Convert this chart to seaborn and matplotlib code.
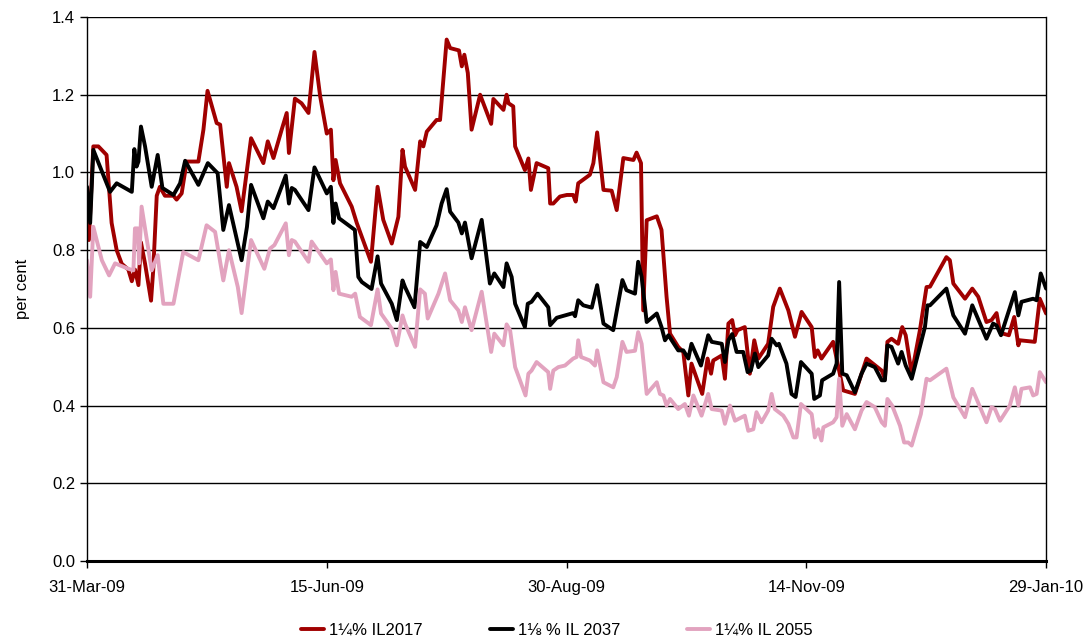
import pandas as pd
import seaborn as sns
import matplotlib.dates as mdates
from matplotlib import pyplot as plt

# days since 31-Mar-09
il2017_days = [0, 0.6, 2.0, 3.6, 6.2, 7.8, 9.4, 11.0, 13.1, 14.2, 15.2, 16.3, 17.1, 18.4, 20.3, 21.0,
               22.1, 23.1, 24.7, 27.4, 28.4, 30.0, 31.6, 35.3, 36.9, 38.2, 41.1, 42.2, 44.3, 45.0,
               47.4, 49.0, 52.0, 55.9, 57.3, 59.1, 61.7, 63.3, 64.0, 65.9, 68.0, 70.2, 72.1, 73.9,
               76.0, 77.3, 78.1, 78.8, 80.2, 83.9, 85.5, 90.0, 92.1, 93.9, 96.6, 98.7, 100.0, 100.8,
               104.0, 105.6, 106.6, 107.7, 110.8, 111.9, 114.0, 115.1, 117.9, 118.8, 119.6, 120.7,
               121.9, 124.6, 128.1, 128.8, 132.0, 133.0, 133.6, 135.1, 135.7, 138.8, 139.9, 140.7,
               142.5, 146.2, 146.8, 147.8, 149.9, 152.1, 154.1, 154.9, 155.7, 159.4, 160.5, 161.7,
               163.7, 166.3, 167.9, 170.0, 173.2, 174.2, 175.6, 176.3, 177.4, 180.6, 182.1, 183.7,
               184.8, 187.4, 189.0, 190.6, 191.6, 195.0, 196.7, 197.8, 198.5, 201.2, 202.2, 203.3,
               204.5, 205.4, 206.2, 208.5, 210.1, 211.5, 212.8, 215.9, 217.5, 219.6, 222.3, 224.4,
               226.5, 229.7, 230.7, 231.6, 232.8, 236.5, 239.7, 243.4, 247.1, 251.9, 252.9, 253.7,
               255.0, 257.1, 258.4, 259.5, 261.4, 264.0, 266.1, 267.2, 272.4, 273.5, 274.6, 278.3,
               280.6, 282.5, 285.1, 286.7, 288.3, 289.4, 290.4, 292.2, 293.9, 295.2, 295.7, 300.4,
               302.0, 304.0]
il2017 = [0.895, 0.826, 1.067, 1.067, 1.045, 0.87, 0.80, 0.765, 0.75, 0.72, 0.75, 0.71, 0.82, 0.765,
          0.67, 0.75, 0.94, 0.963, 0.94, 0.94, 0.93, 0.946, 1.028, 1.028, 1.11, 1.21, 1.127, 1.123,
          0.963, 1.024, 0.963, 0.90, 1.088, 1.024, 1.08, 1.037, 1.11, 1.153, 1.05, 1.19, 1.178,
          1.153, 1.31, 1.196, 1.10, 1.11, 0.98, 1.032, 0.972, 0.912, 0.87, 0.77, 0.963, 0.878,
          0.817, 0.886, 1.058, 1.015, 0.955, 1.08, 1.067, 1.105, 1.135, 1.135, 1.342, 1.32, 1.314,
          1.273, 1.303, 1.256, 1.11, 1.20, 1.125, 1.189, 1.161, 1.20, 1.178, 1.17, 1.067, 1.006,
          1.036, 0.955, 1.024, 1.011, 0.92, 0.92, 0.938, 0.942, 0.942, 0.925, 0.972, 0.994, 1.024,
          1.103, 0.955, 0.953, 0.903, 1.037, 1.032, 1.051, 1.024, 0.645, 0.877, 0.887, 0.852, 0.68,
          0.585, 0.551, 0.538, 0.426, 0.508, 0.430, 0.521, 0.482, 0.516, 0.529, 0.469, 0.611, 0.62,
          0.581, 0.594, 0.602, 0.482, 0.568, 0.521, 0.559, 0.654, 0.701, 0.645, 0.577, 0.641,
          0.602, 0.525, 0.542, 0.521, 0.564, 0.439, 0.43, 0.521, 0.49, 0.469, 0.564, 0.572, 0.559,
          0.602, 0.581, 0.482, 0.594, 0.705, 0.706, 0.782, 0.774, 0.714, 0.675, 0.701, 0.680,
          0.615, 0.62, 0.638, 0.589, 0.585, 0.581, 0.628, 0.555, 0.568, 0.564, 0.675, 0.637]

il2037_days = [0, 1.0, 2.0, 4.1, 7.3, 9.4, 14.2, 15.0, 15.7, 16.3, 17.1, 18.4, 20.5, 22.4, 23.9,
               27.4, 29.5, 31.1, 35.3, 38.3, 41.4, 43.2, 45.0, 49.0, 50.7, 52.0, 55.9, 57.3, 59.1,
               63.0, 64.0, 64.9, 65.9, 70.2, 72.1, 76.0, 77.3, 78.1, 78.8, 79.9, 84.9, 86.0, 87.1,
               90.2, 92.1, 93.2, 96.6, 98.2, 100.0, 100.8, 103.8, 105.6, 107.7, 110.8, 112.4, 114.0,
               115.1, 117.7, 118.8, 119.8, 121.9, 125.1, 127.7, 129.1, 132.0, 133.0, 134.6, 135.7,
               138.8, 139.7, 140.9, 142.8, 146.2, 146.8, 148.9, 151.5, 154.1, 154.7, 155.7, 157.3,
               160.0, 161.7, 163.7, 166.8, 169.7, 171.0, 173.7, 174.7, 175.8, 177.4, 180.6, 182.1,
               183.2, 184.3, 187.4, 189.0, 190.6, 191.6, 194.6, 196.9, 198.0, 201.2, 202.2, 203.3,
               204.5, 205.9, 208.0, 209.4, 210.4, 211.7, 212.8, 215.9, 217.0, 218.6, 219.3, 221.7,
               223.3, 224.6, 226.3, 229.7, 230.5, 232.3, 233.0, 236.5, 237.6, 238.4, 239.4, 240.8,
               243.4, 245.5, 247.1, 249.7, 251.9, 252.9, 253.7, 255.0, 257.1, 258.2, 259.5, 261.4,
               265.6, 266.4, 267.2, 272.4, 274.6, 278.3, 280.6, 285.1, 287.2, 288.3, 289.7, 294.1,
               295.2, 296.2, 299.9, 301.0, 302.3, 304.0]
il2037 = [0.963, 0.87, 1.058, 1.015, 0.95, 0.972, 0.95, 1.06, 1.015, 1.028, 1.118, 1.067, 0.963,
          1.045, 0.96, 0.942, 0.972, 1.03, 0.968, 1.024, 0.998, 0.852, 0.916, 0.774, 0.86, 0.968,
          0.882, 0.925, 0.908, 0.992, 0.92, 0.96, 0.955, 0.903, 1.013, 0.946, 0.963, 0.87, 0.92,
          0.882, 0.852, 0.731, 0.718, 0.70, 0.784, 0.714, 0.662, 0.62, 0.722, 0.705, 0.653, 0.821,
          0.808, 0.864, 0.92, 0.957, 0.899, 0.871, 0.843, 0.871, 0.779, 0.878, 0.714, 0.740, 0.705,
          0.766, 0.731, 0.662, 0.602, 0.662, 0.667, 0.688, 0.653, 0.607, 0.626, 0.632, 0.638, 0.63,
          0.671, 0.658, 0.652, 0.71, 0.611, 0.594, 0.723, 0.697, 0.688, 0.77, 0.731, 0.615, 0.637,
          0.602, 0.568, 0.581, 0.542, 0.542, 0.521, 0.559, 0.503, 0.581, 0.564, 0.559, 0.512,
          0.568, 0.584, 0.538, 0.538, 0.486, 0.49, 0.534, 0.499, 0.529, 0.572, 0.555, 0.559, 0.508,
          0.43, 0.422, 0.512, 0.482, 0.417, 0.426, 0.465, 0.482, 0.508, 0.718, 0.482, 0.478, 0.434,
          0.482, 0.508, 0.499, 0.465, 0.465, 0.555, 0.551, 0.508, 0.538, 0.503, 0.469, 0.602,
          0.658, 0.658, 0.701, 0.632, 0.585, 0.658, 0.572, 0.611, 0.606, 0.581, 0.692, 0.632,
          0.667, 0.675, 0.671, 0.740, 0.701]

il2055_days = [0, 1.0, 2.0, 4.7, 7.0, 8.9, 13.1, 14.7, 15.2, 16.1, 16.5, 17.3, 20.5, 22.4, 24.2,
               27.4, 30.5, 35.3, 37.9, 40.6, 43.2, 45.0, 47.8, 49.0, 52.0, 56.2, 58.0, 59.4, 63.0,
               64.0, 64.9, 65.9, 70.2, 71.2, 76.0, 77.3, 78.1, 78.8, 79.9, 83.9, 85.0, 86.5, 90.0,
               92.1, 93.2, 96.6, 98.2, 100.0, 100.8, 104.0, 105.6, 107.1, 108.0, 111.4, 113.5, 115.1,
               117.7, 118.8, 119.8, 121.9, 125.1, 128.1, 129.1, 132.0, 133.0, 134.1, 135.7, 139.0,
               139.9, 140.9, 142.5, 146.2, 146.8, 147.8, 149.4, 151.5, 154.1, 155.2, 155.7, 156.6,
               159.4, 161.0, 161.7, 163.7, 166.8, 167.9, 169.7, 171.0, 173.7, 174.7, 175.8, 177.4,
               180.6, 181.6, 182.7, 183.7, 184.8, 187.4, 189.5, 190.8, 192.2, 194.8, 196.9, 198.0,
               201.2, 202.2, 203.8, 205.4, 208.5, 209.6, 211.2, 212.2, 213.8, 215.9, 217.0, 218.0,
               220.7, 222.3, 223.9, 224.9, 226.3, 229.7, 230.7, 231.8, 232.8, 233.4, 236.5, 237.6,
               238.4, 239.4, 240.8, 243.4, 245.5, 247.1, 249.7, 251.9, 252.9, 253.7, 255.2, 257.7,
               259.0, 260.3, 261.4, 264.3, 266.1, 267.2, 272.4, 274.6, 278.3, 280.6, 285.1, 286.7,
               287.8, 289.4, 292.5, 294.1, 295.2, 296.2, 298.9, 299.9, 301.0, 302.0, 304.0]
il2055 = [0.774, 0.68, 0.86, 0.774, 0.735, 0.766, 0.752, 0.748, 0.856, 0.856, 0.766, 0.912, 0.748,
          0.787, 0.662, 0.662, 0.795, 0.774, 0.864, 0.847, 0.722, 0.80, 0.705, 0.638, 0.826, 0.752,
          0.804, 0.813, 0.869, 0.787, 0.826, 0.822, 0.77, 0.822, 0.766, 0.776, 0.697, 0.744, 0.688,
          0.68, 0.688, 0.628, 0.607, 0.699, 0.637, 0.598, 0.555, 0.632, 0.611, 0.551, 0.699, 0.688,
          0.624, 0.688, 0.740, 0.671, 0.645, 0.615, 0.653, 0.594, 0.693, 0.538, 0.585, 0.555,
          0.609, 0.594, 0.499, 0.426, 0.482, 0.490, 0.512, 0.486, 0.443, 0.49, 0.499, 0.503, 0.521,
          0.525, 0.568, 0.525, 0.516, 0.503, 0.542, 0.460, 0.447, 0.473, 0.564, 0.538, 0.541,
          0.589, 0.559, 0.43, 0.460, 0.430, 0.426, 0.40, 0.417, 0.391, 0.404, 0.374, 0.426, 0.374,
          0.43, 0.391, 0.387, 0.353, 0.40, 0.361, 0.374, 0.335, 0.339, 0.383, 0.357, 0.387, 0.430,
          0.391, 0.374, 0.353, 0.318, 0.318, 0.404, 0.378, 0.318, 0.339, 0.31, 0.344, 0.357, 0.370,
          0.469, 0.348, 0.378, 0.339, 0.387, 0.409, 0.396, 0.357, 0.348, 0.417, 0.40, 0.348, 0.305,
          0.305, 0.297, 0.378, 0.469, 0.465, 0.495, 0.421, 0.370, 0.443, 0.357, 0.396, 0.391,
          0.361, 0.40, 0.447, 0.40, 0.443, 0.447, 0.426, 0.43, 0.486, 0.460]

labels = ['1¼% IL2017', '1⅛ % IL 2037', '1¼% IL 2055']
colors = ['#A00000', '#000000', '#E2A3BF']
start = pd.Timestamp('2009-03-31')
tick_days = [0, 76, 152, 228, 304]


def to_frame(days, values, name):
    return pd.DataFrame({'date': start + pd.to_timedelta(days, unit='D'),
                         'value': values, 'series': name})


df = pd.concat([to_frame(il2017_days, il2017, labels[0]),
                to_frame(il2037_days, il2037, labels[1]),
                to_frame(il2055_days, il2055, labels[2])], ignore_index=True)

sns.set_style('white')
plt.rcParams['font.family'] = ['Liberation Sans', 'DejaVu Sans']
plt.rcParams['text.color'] = 'black'
plt.rcParams['axes.labelcolor'] = 'black'
plt.rcParams['xtick.color'] = 'black'
plt.rcParams['ytick.color'] = 'black'

fig = plt.figure(figsize=(10.89, 6.44), dpi=100)
ax = fig.add_axes([0.0799, 0.1289, 0.8807, 0.8447])

sns.lineplot(data=df, x='date', y='value', hue='series', hue_order=labels,
             palette=dict(zip(labels, colors)), estimator=None, sort=False,
             linewidth=2.8, ax=ax)

ax.set_ylim(0, 1.4)
ax.set_yticks([0, 0.2, 0.4, 0.6, 0.8, 1.0, 1.2, 1.4])
ax.set_yticklabels([f'{v:.1f}' for v in ax.get_yticks()])
ax.set_xlim(start, start + pd.Timedelta(days=304))
ax.set_xticks([start + pd.Timedelta(days=d) for d in tick_days])
ax.xaxis.set_major_formatter(mdates.DateFormatter('%d-%b-%y'))
ax.yaxis.grid(True, color='black', linewidth=1.0)
ax.set_axisbelow(True)
ax.set_xlabel('')
ax.set_ylabel('per cent', fontsize=12, labelpad=16)
ax.tick_params(axis='both', labelsize=12, direction='out', length=5, width=1,
               left=True, bottom=True)
ax.tick_params(axis='x', pad=9)

for side in ['left', 'right']:
    ax.spines[side].set_color('black')
    ax.spines[side].set_linewidth(1.0)
ax.spines['top'].set_visible(False)
ax.spines['bottom'].set_color('black')
ax.spines['bottom'].set_linewidth(2.2)

sns.move_legend(ax, 'center', bbox_to_anchor=(0.49, -0.127), ncol=3, frameon=False, title=None,
                fontsize=12, handlelength=1.4, handletextpad=0.3, columnspacing=4.0)

plt.savefig('out.png', dpi=100)
